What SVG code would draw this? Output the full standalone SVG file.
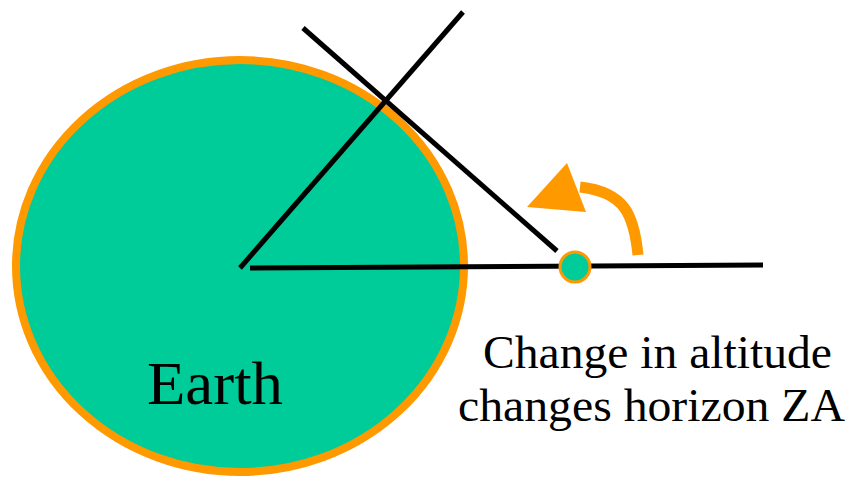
<svg xmlns="http://www.w3.org/2000/svg" width="848" height="479" viewBox="0 0 848 479">
<style>
.ln{stroke:#000;stroke-width:5;fill:none}
.txt{font-family:"Liberation Serif","Times New Roman",serif;fill:#000}
</style>
<rect width="848" height="479" fill="#fff"/>
<g id="earth">
<ellipse cx="240" cy="266" rx="224" ry="206" fill="#00CC99" stroke="#FF9900" stroke-width="8"/>
<text class="txt" x="147" y="404" font-size="62" textLength="136" lengthAdjust="spacingAndGlyphs">Earth</text>
</g>
<g id="connectors">
<line class="ln" x1="240" y1="268" x2="463" y2="12"/>
<line class="ln" x1="303" y1="28" x2="557" y2="251"/>
<line class="ln" x1="250" y1="268" x2="763" y2="265"/>
</g>
<g id="observer">
<circle cx="575" cy="267" r="15" fill="#00CC99" stroke="#FF9900" stroke-width="3"/>
</g>
<g id="arrow">
<path d="M638,255 C634,215 625,192 580,187" fill="none" stroke="#FF9900" stroke-width="11"/>
<polygon points="567,163 527,207 586,212" fill="#FF9900"/>
</g>
<g id="label">
<text class="txt" x="483" y="368" font-size="47" textLength="349" lengthAdjust="spacingAndGlyphs">Change in altitude</text>
<text class="txt" x="458" y="421" font-size="47" textLength="387" lengthAdjust="spacingAndGlyphs">changes horizon ZA</text>
</g>
</svg>
